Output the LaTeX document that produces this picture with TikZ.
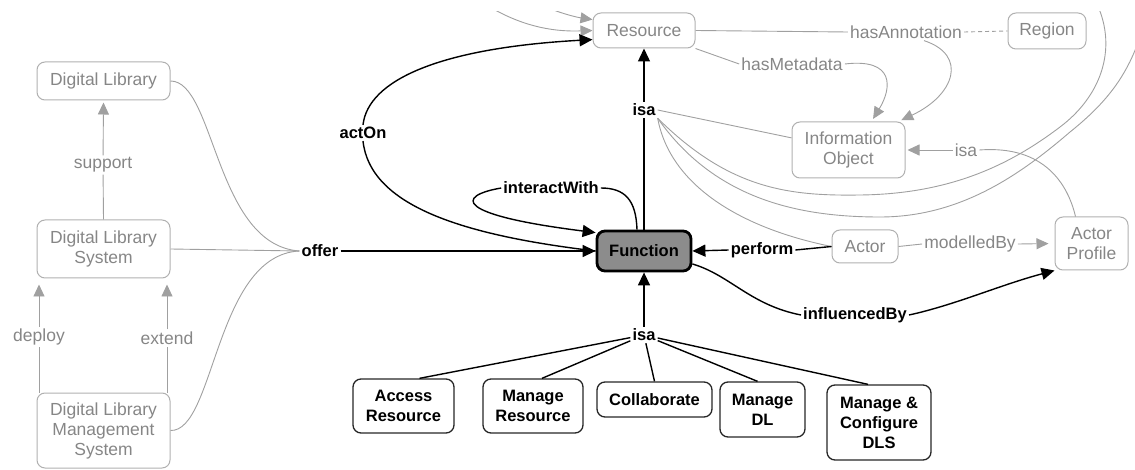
\documentclass[tikz,border=0pt]{standalone}
\usepackage{fontspec}
\setmainfont{Liberation Sans}
\usetikzlibrary{arrows.meta}
\definecolor{gtext}{HTML}{868686}
\definecolor{gline}{HTML}{A0A0A0}
\definecolor{gbox}{HTML}{B0B0B0}
\definecolor{ffill}{HTML}{8C8C8C}
\begin{document}
\begin{tikzpicture}[x=1pt,y=-1pt,
  font=\fontsize{16.5}{20}\selectfont,
  gbx/.style={draw=gbox,line width=1pt,rounded corners=8pt,text=gtext,align=center,inner sep=0pt,font=\fontsize{17.5}{20}\selectfont},
  bbx/.style={draw=black!85,line width=1.3pt,rounded corners=8pt,font=\fontsize{16.5}{20}\selectfont\bfseries,align=center,inner sep=0pt},
  glab/.style={text=gtext,inner sep=2pt,font=\fontsize{17.5}{20}\selectfont},
  blab/.style={font=\fontsize{16.5}{20}\selectfont\bfseries,inner sep=2pt},
  gl/.style={draw=gline,line width=0.9pt},
  bl/.style={draw=black,line width=1.4pt},
  garr/.style={gl,-{Triangle[length=12pt,width=11pt]}},
  barr/.style={bl,-{Triangle[length=13pt,width=12pt]}},
]
\useasboundingbox (0,0) rectangle (1135,470);

% ---------- gray nodes ----------
\node[gbx,minimum width=133pt,minimum height=38pt] (dl) at (103.5,81) {Digital Library};
\node[gbx,minimum width=133pt,minimum height=58pt] (dls) at (103.5,249) {Digital Library\\System};
\node[gbx,minimum width=133pt,minimum height=75pt] (dlms) at (103.5,430.5) {Digital Library\\Management\\System};
\node[gbx,minimum width=102pt,minimum height=35pt] (rs) at (644,30.5) {Resource};
\node[gbx,minimum width=113pt,minimum height=56pt] (io) at (848.5,150) {Information\\Object};
\node[gbx,minimum width=78pt,minimum height=36pt] (region) at (1047,31) {Region};
\node[gbx,minimum width=66pt,minimum height=33pt] (actor) at (865,246.5) {Actor};
\node[gbx,minimum width=73pt,minimum height=53pt] (ap) at (1091.5,243.5) {Actor\\Profile};

% ---------- black nodes ----------
\node[bbx,draw=black,line width=2.8pt,fill=ffill,minimum width=94pt,minimum height=40pt] (fn) at (644,251) {Function};
\node[bbx,minimum width=101pt,minimum height=54pt] (acc) at (403.5,406) {Access\\Resource};
\node[bbx,minimum width=100pt,minimum height=54pt] (mres) at (533,406) {Manage\\Resource};
\node[bbx,minimum width=115pt,minimum height=35pt] (collab) at (654.5,399.5) {Collaborate};
\node[bbx,minimum width=85pt,minimum height=55pt] (mdl) at (762.5,409.5) {Manage\\DL};
\node[bbx,minimum width=104pt,minimum height=75pt] (mcfg) at (879,422.5) {Manage \&\\Configure\\DLS};

% ---------- labels ----------
\node[glab] (support) at (103,165) {support};
\node[glab] (deploy) at (39,337) {deploy};
\node[glab] (extend) at (167,338) {extend};
\node[blab] (offer) at (320,251) {offer};
\node[blab] (acton) at (363,133) {actOn};
\node[blab] (iw) at (551,188) {interactWith};
\node[blab] (isa1) at (644,110) {isa};
\node[blab] (isa2) at (644,335) {isa};
\node[blab] (perform) at (762,250) {perform};
\node[blab] (infl) at (855,315) {influencedBy};
\node[glab] (mby) at (970,244) {modelledBy};
\node[glab] (isa3) at (966,150) {isa};
\node[glab] (hmeta) at (792,64) {hasMetadata};
\node[glab] (hann) at (906,32) {hasAnnotation};

\coordinate (stubA) at (488,6);
\coordinate (stubB) at (543,6);
\coordinate (arcA) at (1097,4);
\coordinate (arcB) at (1145,20);

% ---------- gray connectors ----------
\draw[gl] (dls.north) -- (support);
\draw[garr,shorten >=2pt] (support) -- (dl.south);
\draw[gl] (dlms.north -| deploy) -- (deploy);
\draw[garr,shorten >=6pt] (deploy) -- (dls.south -| deploy);
\draw[gl] (dlms.north -| extend) -- (extend);
\draw[garr,shorten >=6pt] (extend) -- (dls.south -| extend);

\draw[gl] (dl.east) .. controls (215,81) and (215,245) .. (offer.west);
\draw[gl] (dls.east) -- (offer.west);
\draw[gl] (dlms.east) .. controls (215,432) and (215,255) .. (offer.west);

\begin{scope}
\clip (0,12) rectangle (1135,470);
\draw[garr] (stubA) .. controls (520,25) and (550,32) .. (rs.west);
\draw[garr] (stubB) .. controls (560,13) and (575,17) .. (rs.168);
\draw[gl] (isa1.south east) .. controls (730,190) and (790,196) .. (860,195)
  .. controls (950,194) and (1010,165) .. (1060,127)
  .. controls (1100,97) and (1118,50) .. (arcA);
\draw[gl] (isa1.south east) .. controls (715,200) and (800,217) .. (880,217)
  .. controls (960,217) and (1020,175) .. (1070,132)
  .. controls (1110,100) and (1132,70) .. (arcB);
\end{scope}

\draw[gl] (isa1.east) -- (io.168);
\draw[gl] (isa1.south east) .. controls (670,185) and (740,228) .. (actor.west);

\draw[gl] (rs.east) -- (hann.west);
\draw[gl,dash pattern=on 4pt off 3pt] (hann.east) -- (region.west);
\draw[gl] (rs.south east) -- (hmeta.west);
\draw[garr,shorten >=3pt] (hmeta.east) .. controls (895,58) and (892,88) .. ([xshift=23pt]io.north);
\draw[garr,shorten >=3pt] ([xshift=18pt]hann.south) .. controls (968,55) and (955,95) .. ([xshift=50pt]io.north);

\draw[garr,shorten >=2pt] (isa3.west) -- (io.east);
\draw[gl] (isa3.east) .. controls (1045,145) and (1068,185) .. ([xshift=-16pt]ap.north);
\draw[gl] (actor.east) -- (mby.west);
\draw[garr,shorten >=6pt] (mby.east) -- (ap.west);

% ---------- black connectors ----------
\draw[barr] (offer.east) -- (fn.west);
\draw[bl] (fn.west) .. controls (460,235) and (370,205) .. (acton.south);
\draw[barr] (acton.north) .. controls (368,80) and (440,48) .. (rs.190);
\draw[bl] ([xshift=-7pt]fn.north) .. controls (636,200) and (625,188) .. (iw.east);
\draw[barr] (iw.west) .. controls (455,196) and (455,215) .. ([yshift=-3pt]fn.north west);
\draw[bl] (fn.north) -- (isa1.south);
\draw[barr] (isa1.north) -- (rs.south);
\draw[bl] (actor.west) -- (perform.east);
\draw[barr] (perform.west) -- (fn.east);
\draw[bl] (fn.-15) .. controls (730,275) and (750,305) .. (infl.west);
\draw[barr] (infl.east) .. controls (955,305) and (1000,285) .. (ap.south west);

\draw[barr] (isa2.north) -- (fn.south);
\draw[bl] (isa2) -- ([xshift=16pt]acc.north);
\draw[bl] (isa2) -- ([xshift=9pt]mres.north);
\draw[bl] (isa2) -- (collab.north);
\draw[bl] (isa2) -- ([xshift=-5pt]mdl.north);
\draw[bl] (isa2) -- ([xshift=-11pt]mcfg.north);
\end{tikzpicture}
\end{document}
